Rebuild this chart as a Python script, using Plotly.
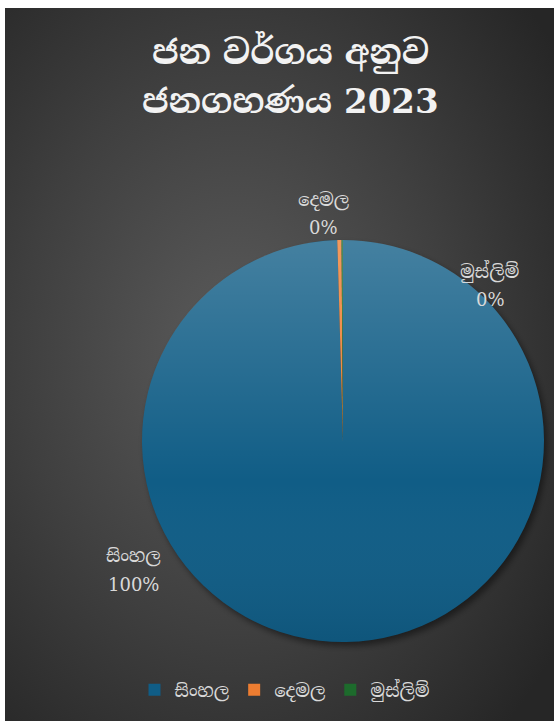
import base64
import plotly.graph_objects as go

W, H = 554, 724

# ---- data ----
categories = ["සිංහල", "දෙමල", "මුස්ලිම්"]
values = [99.55, 0.33, 0.12]
colors = ["#105d86", "#ed7d31", "#1d6b2c"]
title_lines = ["ජන වර්ගය අනුව", "ජනගහණය 2023"]

SIN_FONT = "DejaVu Serif, Noto Serif Sinhala, Noto Sans Sinhala, serif"

def px(x):
    return x / W

def py(y):
    return 1 - y / H

# background image (radial gradient + pie shadow)
bg_svg = f'''<svg xmlns="http://www.w3.org/2000/svg" width="549" height="713" viewBox="0 0 549 713">
<defs>
<radialGradient id="g" cx="0.42" cy="0.48" r="0.72">
<stop offset="0" stop-color="#5b5b5b"/>
<stop offset="0.55" stop-color="#3f3f3f"/>
<stop offset="1" stop-color="#262626"/>
</radialGradient>
<filter id="b" x="-20%" y="-20%" width="140%" height="140%"><feGaussianBlur stdDeviation="3"/></filter>
</defs>
<rect width="549" height="713" fill="url(#g)"/>
<circle cx="{343-5+3}" cy="{441-8+4}" r="201" fill="#000" fill-opacity="0.45" filter="url(#b)"/>
</svg>'''
bg_src = "data:image/svg+xml;base64," + base64.b64encode(bg_svg.encode()).decode()

# pie gradient overlay
ov_svg = '''<svg xmlns="http://www.w3.org/2000/svg" width="402" height="402" viewBox="0 0 402 402">
<defs><linearGradient id="p" x1="0" y1="0" x2="0" y2="1">
<stop offset="0" stop-color="#ffffff" stop-opacity="0.22"/>
<stop offset="0.6" stop-color="#ffffff" stop-opacity="0.0"/>
<stop offset="1" stop-color="#000000" stop-opacity="0.08"/>
</linearGradient></defs>
<circle cx="201" cy="201" r="201" fill="url(#p)"/>
</svg>'''
ov_src = "data:image/svg+xml;base64," + base64.b64encode(ov_svg.encode()).decode()

fig = go.Figure()
fig.add_trace(go.Pie(
    labels=categories,
    values=values,
    sort=False,
    direction="clockwise",
    rotation=0,
    marker=dict(colors=colors, line=dict(width=0)),
    textinfo="none",
    hoverinfo="label+percent",
    domain=dict(x=[px(142), px(544)], y=[py(642), py(240)]),
    showlegend=True,
))

total = sum(values)
pcts = [f"{round(v / total * 100)}%" for v in values]
label_pos = [(133, 556), (323, 200), (490, 272)]
annotations = []
for cat, pct, (lx, ly) in zip(categories, pcts, label_pos):
    for txt, yy in ((cat, ly), (pct, ly + 28)):
        annotations.append(dict(
            x=px(lx), y=py(yy), xref="paper", yref="paper",
            text=txt, showarrow=False, align="center",
            font=dict(family=SIN_FONT, size=18, color="#d9d9d9"),
            xanchor="center", yanchor="middle",
        ))

for i, line in enumerate(title_lines):
    ty = 52 + i * 49
    annotations.append(dict(
        x=px(290), y=py(ty), xref="paper", yref="paper", text=f"<b>{line}</b>",
        showarrow=False, xanchor="center", yanchor="middle",
        font=dict(family=SIN_FONT, size=34, color="#f2f2f2"),
    ))

fig.update_layout(
    width=W, height=H,
    margin=dict(l=0, r=0, t=0, b=0),
    paper_bgcolor="white",
    plot_bgcolor="rgba(0,0,0,0)",
    annotations=annotations,
    images=[
        dict(source=bg_src, xref="paper", yref="paper", x=px(5), y=py(8),
             sizex=px(549), sizey=713 / H, xanchor="left", yanchor="top",
             sizing="stretch", layer="below"),
        dict(source=ov_src, xref="paper", yref="paper", x=px(142), y=py(240),
             sizex=px(402), sizey=402 / H, xanchor="left", yanchor="top",
             sizing="stretch", layer="above"),
    ],
    legend=dict(
        orientation="h", x=px(285), xanchor="center", y=py(690), yanchor="middle",
        font=dict(family=SIN_FONT, size=18, color="#d9d9d9"),
        bgcolor="rgba(0,0,0,0)", itemsizing="constant",
    ),
    showlegend=True,
)

fig.write_html("out.html", config={"displayModeBar": False},
               post_script="document.body.style.margin='0';")
